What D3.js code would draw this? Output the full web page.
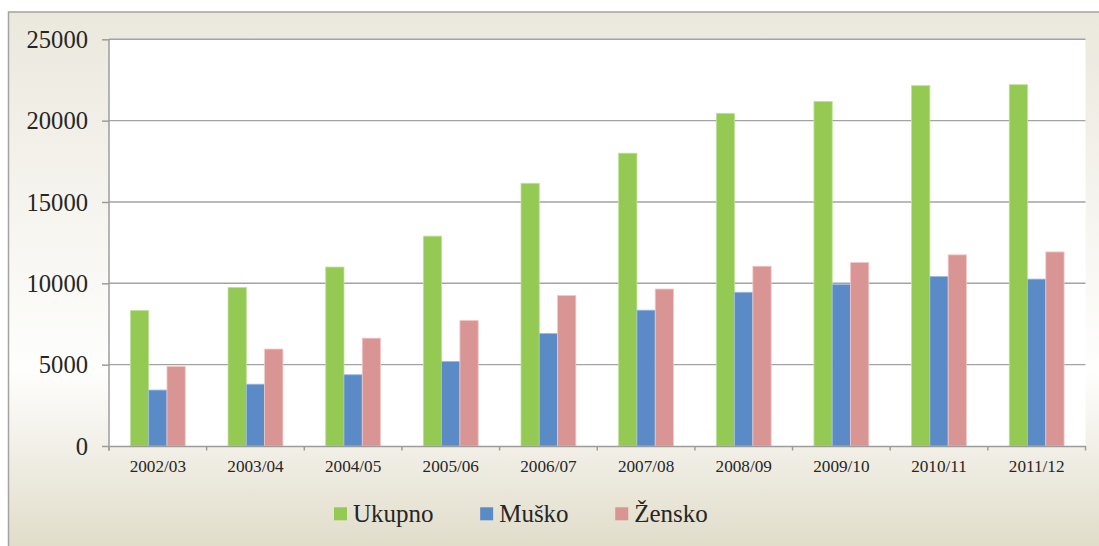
<!DOCTYPE html>
<html>
<head>
<meta charset="utf-8">
<script src="https://cdn.jsdelivr.net/npm/d3@7"></script>
<style>
    body { margin: 0; background: #ffffff; }
    text { font-family: "Liberation Serif", "Times New Roman", serif; fill: #262626; }
</style>
</head>
<body>
<div id="chart"></div>
<script>
// Data
var years = ["2002/03", "2003/04", "2004/05", "2005/06", "2006/07",
             "2007/08", "2008/09", "2009/10", "2010/11", "2011/12"];
var seriesNames = ["Ukupno", "Muško", "Žensko"];
var ukupno = [8330, 9750, 11000, 12900, 16150, 18000, 20450, 21180, 22150, 22210];
var musko  = [3440, 3800, 4380, 5200, 6920, 8350, 9450, 9930, 10420, 10260];
var zensko = [4890, 5960, 6630, 7720, 9250, 9650, 11050, 11280, 11750, 11930];
var yTicks = [0, 5000, 10000, 15000, 20000, 25000];

function init() {
    var w = 1099,
        h = 546,
        plot = {left: 109, right: 1085.5, top: 39.3, bottom: 446};

    var colors = {"Ukupno": "#94c954", "Muško": "#5a8bc7", "Žensko": "#d99594"};
    var edges = {"Ukupno": "#bfe29a", "Muško": "#9dbbe2", "Žensko": "#f0c9c8"};

    var rows = years.map(function(y, i) {
        return {year: y, values: [ukupno[i], musko[i], zensko[i]]};
    });

    var svg = d3.select("#chart")
        .append("svg")
        .attr("width", w)
        .attr("height", h);

    // Background gradient of the chart frame
    var grad = svg.append("defs").append("linearGradient")
        .attr("id", "bg")
        .attr("x1", 0).attr("y1", 0).attr("x2", 0).attr("y2", 1);
    grad.append("stop").attr("offset", "0%").attr("stop-color", "#ebe8dd");
    grad.append("stop").attr("offset", "64%").attr("stop-color", "#fefefd");
    grad.append("stop").attr("offset", "100%").attr("stop-color", "#ddd8c3");

    svg.append("rect")
        .attr("x", 8.5)
        .attr("y", 12)
        .attr("width", 1110)
        .attr("height", 560)
        .attr("fill", "url(#bg)")
        .attr("stroke", "#a3a3a3")
        .attr("stroke-width", 1.5);

    // Plot area
    svg.append("rect")
        .attr("x", plot.left)
        .attr("y", plot.top)
        .attr("width", plot.right - plot.left)
        .attr("height", plot.bottom - plot.top)
        .attr("fill", "#ffffff");

    // Scales
    var x0 = d3.scaleBand()
        .domain(years)
        .range([plot.left, plot.right])
        .padding(0);

    var x1 = d3.scaleBand()
        .domain(seriesNames)
        .range([0, x0.bandwidth()])
        .paddingInner(0)
        .paddingOuter(1.17);

    var yScale = d3.scaleLinear()
        .domain([0, 25000])
        .range([plot.bottom, plot.top]);

    // Gridlines
    svg.append("g")
        .selectAll("line")
        .data(yTicks.slice(1))
        .enter().append("line")
        .attr("x1", plot.left)
        .attr("x2", plot.right)
        .attr("y1", d => yScale(d))
        .attr("y2", d => yScale(d))
        .attr("stroke", "#a3a3a6")
        .attr("stroke-width", 1.4);

    // Bars
    var groups = svg.append("g")
        .selectAll("g")
        .data(rows)
        .enter().append("g")
        .attr("transform", d => "translate(" + x0(d.year) + ",0)");

    groups.selectAll("rect")
        .data(d => d.values.map(function(v, i) { return {name: seriesNames[i], value: v}; }))
        .enter().append("rect")
        .attr("x", d => x1(d.name))
        .attr("y", d => yScale(d.value))
        .attr("width", x1.bandwidth())
        .attr("height", d => plot.bottom - yScale(d.value))
        .attr("fill", d => colors[d.name])
        .attr("stroke", d => edges[d.name])
        .attr("stroke-width", 0.8);

    // Y axis
    var yAxis = d3.axisLeft(yScale)
        .tickValues(yTicks)
        .tickSize(7)
        .tickPadding(14)
        .tickFormat(d3.format("d"));

    var yg = svg.append("g")
        .attr("transform", "translate(" + plot.left + ",0)")
        .call(yAxis);
    yg.select(".domain").attr("stroke", "#9c9c9c").attr("stroke-width", 1.5)
        .attr("d", "M0," + plot.top + "V" + (plot.bottom + 4.5));
    yg.selectAll(".tick line").attr("stroke", "#9c9c9c").attr("stroke-width", 1.5);
    yg.selectAll(".tick text")
        .attr("dy", "0.33em")
        .style("font-size", "24.6px")
        .style("font-family", "Liberation Serif, serif")
        .attr("fill", "#262626");

    // X axis
    var xAxis = d3.axisBottom(x0).tickSize(0).tickPadding(0);
    var xg = svg.append("g")
        .attr("transform", "translate(0," + plot.bottom + ")")
        .call(xAxis);
    xg.select(".domain").attr("stroke", "#9c9c9c").attr("stroke-width", 1.5);
    xg.selectAll(".tick text")
        .attr("y", 26)
        .attr("dy", 0)
        .style("font-size", "17.2px")
        .style("font-family", "Liberation Serif, serif")
        .attr("fill", "#262626");

    // Tick marks at category boundaries
    var bounds = years.map(d => x0(d)).concat([plot.right]);
    xg.selectAll(".bound")
        .data(bounds)
        .enter().append("line")
        .attr("class", "bound")
        .attr("x1", d => d)
        .attr("x2", d => d)
        .attr("y1", 0)
        .attr("y2", 4.5)
        .attr("stroke", "#9c9c9c")
        .attr("stroke-width", 1.5);

    // Legend
    var legend = svg.append("g")
        .attr("transform", "translate(334, 507.3)");

    var lx = 0;
    seriesNames.forEach(function(name) {
        var item = legend.append("g")
            .attr("transform", "translate(" + lx + ",0)");

        item.append("rect")
            .attr("width", 13)
            .attr("height", 13)
            .attr("fill", colors[name]);

        var t = item.append("text")
            .attr("x", 19)
            .attr("y", 14.7)
            .style("font-size", "25px")
            .text(name);

        lx += 19 + t.node().getComputedTextLength() + 46.6;
    });
}

init();
</script>
</body>
</html>
